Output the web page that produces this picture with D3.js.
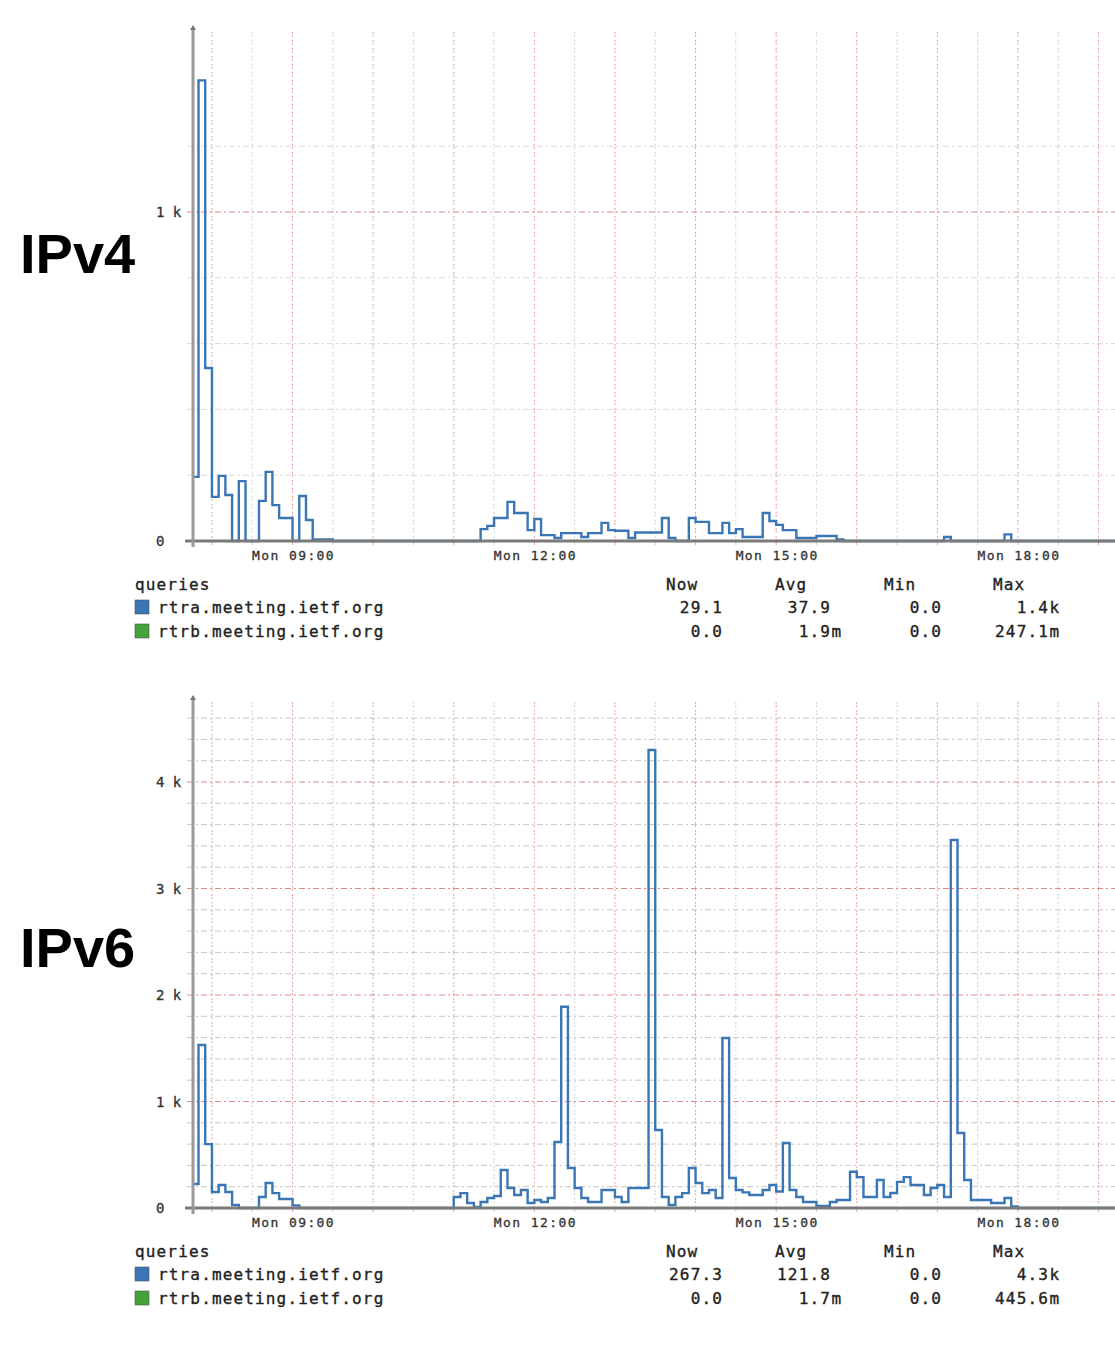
<!DOCTYPE html>
<html><head><meta charset="utf-8">
<script src="https://cdn.jsdelivr.net/npm/d3@7"></script>
<style>body{margin:0;background:#fff;} svg{display:block}</style>
</head><body>
<svg id="c" width="1115" height="1350"></svg>
<script>
// ---------------- data ----------------
const startHour = 7, startMinute = 45;   // first 5-minute bin
const stepMinutes = 5;
const xTickHours = [9, 12, 15, 18];
const xTickLabels = ["Mon 09:00", "Mon 12:00", "Mon 15:00", "Mon 18:00"];

const ipv4Values = [
  195, 1400, 526, 134, 198, 140, 0, 182, 0, 0,
  122, 210, 109, 70, 70, 0, 137, 64, 5, 5,
  5, 0, 0, 0, 0, 0, 0, 0, 0, 0,
  0, 0, 0, 0, 0, 0, 0, 0, 0, 0,
  0, 0, 0, 36, 46, 70, 70, 119, 85, 85,
  33, 67, 18, 18, 9, 24, 24, 24, 12, 24,
  24, 55, 33, 31, 31, 9, 26, 26, 26, 26,
  70, 9, 0, 0, 70, 58, 58, 24, 24, 55,
  24, 36, 12, 12, 12, 85, 61, 49, 33, 33,
  9, 9, 9, 15, 15, 15, 5, 0, 0, 0,
  0, 0, 0, 0, 0, 0, 0, 0, 0, 0,
  0, 0, 12, 0, 0, 0, 0, 0, 0, 0,
  0, 20, 0, 0, 0, 0, 0, 0, 0, 0,
  0, 0, 0, 0, 0, 0, 0, 0
];

const ipv6Values = [
  225, 1530, 600, 150, 216, 150, 28, 0, 0, 0,
  103, 235, 140, 85, 85, 25, 0, 0, 0, 0,
  0, 0, 0, 0, 0, 0, 0, 0, 0, 0,
  0, 0, 0, 0, 0, 0, 0, 0, 0, 103,
  140, 47, 10, 56, 94, 113, 357, 188, 122, 169,
  47, 75, 56, 94, 620, 1890, 376, 188, 94, 56,
  56, 169, 169, 103, 56, 188, 188, 188, 4300, 732,
  103, 28, 103, 140, 376, 235, 140, 169, 94, 1596,
  282, 169, 147, 122, 122, 169, 216, 155, 610, 169,
  103, 56, 56, 20, 20, 56, 75, 75, 340, 290,
  103, 103, 263, 103, 141, 245, 290, 216, 216, 122,
  188, 216, 103, 3455, 704, 263, 75, 75, 75, 47,
  47, 94, 14, 0, 0, 0, 0, 0, 0, 0,
  0, 0, 0, 0, 0, 0, 0, 0
];

const seriesNames = ["rtra.meeting.ietf.org", "rtrb.meeting.ietf.org"];
const seriesColors = ["#3a76b6", "#44a23a"];
const legendTitle = "queries";
const statHeaders = ["Now", "Avg", "Min", "Max"];
const ipv4Stats = [["29.1", "37.9", "0.0", "1.4k"], ["0.0", "1.9m", "0.0", "247.1m"]];
const ipv6Stats = [["267.3", "121.8", "0.0", "4.3k"], ["0.0", "1.7m", "0.0", "445.6m"]];

const ipv4YTicks = [0, 1000];
const ipv4YTickLabels = ["0", "1 k"];
const ipv6YTicks = [0, 1000, 2000, 3000, 4000];
const ipv6YTickLabels = ["0", "1 k", "2 k", "3 k", "4 k"];

// ---------------- drawing ----------------
const svg = d3.select("#c");
const MONO = "'DejaVu Sans Mono', 'Liberation Mono', monospace";

function T(h, m) { return new Date(2024, 0, 1, h, m); }

const x = d3.scaleTime()
  .domain([T(startHour, startMinute), T(19, 15)])
  .range([191.8, 191.8 + 11.5 * 80.6]);

function drawChart(cfg) {
  const g = svg.append("g");
  const y = d3.scaleLinear().domain([0, 1000]).range([cfg.base, cfg.base - cfg.perK]);
  const left = 193, right = 1115;

  // vertical grid
  for (let h = 8; h <= 19; h++) {
    for (const m of [0, 30]) {
      const xx = x(T(h, m));
      if (xx < left + 2 || xx > right) continue;
      g.append("line").attr("x1", xx).attr("x2", xx)
        .attr("y1", cfg.top + 7).attr("y2", cfg.base)
        .attr("stroke", m === 0 ? "#eda0a0" : "#d6d6d6")
        .attr("stroke-width", 1)
        .attr("stroke-dasharray", "2,1,2,3");
      g.append("line").attr("x1", xx).attr("x2", xx)
        .attr("y1", cfg.base).attr("y2", cfg.base + 4)
        .attr("stroke", m === 0 ? "#eda0a0" : "#cccccc");
    }
  }
  // horizontal grid
  for (let v = 200; v <= cfg.gridMax; v += 200) {
    const major = v % 1000 === 0;
    g.append("line").attr("x1", 187).attr("x2", right)
      .attr("y1", y(v)).attr("y2", y(v))
      .attr("stroke", major ? "#e08a8a" : cfg.minorColor)
      .attr("stroke-width", 1)
      .attr("stroke-dasharray", "6,3,2,3");
  }

  // series line (step)
  const pts = [];
  cfg.values.forEach((v, i) => {
    const t0 = T(startHour, startMinute + i * stepMinutes);
    const t1 = T(startHour, startMinute + (i + 1) * stepMinutes);
    pts.push([x(t0), y(v)], [x(t1), y(v)]);
  });
  const clipId = "clip" + cfg.base;
  svg.append("clipPath").attr("id", clipId).append("rect")
    .attr("x", left).attr("y", 0).attr("width", right - left).attr("height", 1350);
  g.append("path").attr("d", d3.line()(pts))
    .attr("clip-path", `url(#${clipId})`)
    .attr("fill", "none").attr("stroke", seriesColors[0])
    .attr("stroke-width", 2.4).attr("stroke-linejoin", "miter");

  // axes
  g.append("line").attr("x1", 185).attr("x2", right)
    .attr("y1", cfg.base).attr("y2", cfg.base)
    .attr("stroke", "#7a7a7a").attr("stroke-width", 2.8);
  g.append("line").attr("x1", left).attr("x2", left)
    .attr("y1", cfg.top + 3).attr("y2", cfg.base + 6)
    .attr("stroke", "#9a9a9a").attr("stroke-width", 3);
  g.append("path")
    .attr("d", `M${left - 3},${cfg.top + 5} L${left},${cfg.top} L${left + 3},${cfg.top + 5} Z`)
    .attr("fill", "#777");

  // y tick labels
  cfg.yTicks.forEach((v, i) => {
    g.append("text").attr("x", 156).attr("y", y(v) + 5)
      .attr("font-family", MONO).attr("font-size", 14)
      .attr("fill", "#333").attr("stroke", "#333").attr("stroke-width", 0.3)
      .text(cfg.yLabels[i]);
  });
  // x tick labels
  xTickHours.forEach((h, i) => {
    g.append("text").attr("x", x(T(h, 0)) + 1).attr("y", cfg.base + 19)
      .attr("text-anchor", "middle")
      .attr("font-family", MONO).attr("font-size", 13)
      .attr("letter-spacing", 1.4).attr("fill", "#333")
      .attr("stroke", "#333").attr("stroke-width", 0.3)
      .text(xTickLabels[i]);
  });

  // big label
  g.append("text").attr("x", 20).attr("y", cfg.labelY)
    .attr("font-family", "'Liberation Sans', Arial, sans-serif")
    .attr("font-weight", "bold").attr("font-size", 56)
    .attr("fill", "#000").text(cfg.label);

  // legend
  const ly = cfg.base + 49;
  const txt = (xx, yy, s, anchor) => g.append("text").attr("x", xx).attr("y", yy)
    .attr("text-anchor", anchor || "start")
    .attr("font-family", MONO).attr("font-size", 16)
    .attr("letter-spacing", 1.15).attr("fill", "#222")
    .attr("stroke", "#222").attr("stroke-width", 0.35).text(s);
  txt(135, ly, legendTitle);
  const headX = [666, 775, 884, 993];
  statHeaders.forEach((s, i) => txt(headX[i], ly, s));
  const numRight = [723, 831, 942, 1049];
  seriesNames.forEach((name, r) => {
    const yy = ly + 23 + r * 24;
    g.append("rect").attr("x", 135).attr("y", yy - 13).attr("width", 14).attr("height", 14)
      .attr("fill", seriesColors[r]).attr("stroke", "#555").attr("stroke-width", 0.6);
    txt(158, yy, name);
    cfg.stats[r].forEach((s, c) => {
      const m = s.match(/^([0-9.]+)([a-zA-Z]?)$/);
      txt(numRight[c], yy, m[1], "end");
      if (m[2]) txt(numRight[c] + 0.5, yy, m[2]);
    });
  });
}

drawChart({
  base: 541, perK: 329, top: 25, gridMax: 1200, minorColor: "#dadada",
  values: ipv4Values, yTicks: ipv4YTicks, yLabels: ipv4YTickLabels,
  label: "IPv4", labelY: 273, stats: ipv4Stats
});
drawChart({
  base: 1208, perK: 106.5, top: 695, gridMax: 4600, minorColor: "#c6c6c6",
  values: ipv6Values, yTicks: ipv6YTicks, yLabels: ipv6YTickLabels,
  label: "IPv6", labelY: 967, stats: ipv6Stats
});
</script>
</body></html>
